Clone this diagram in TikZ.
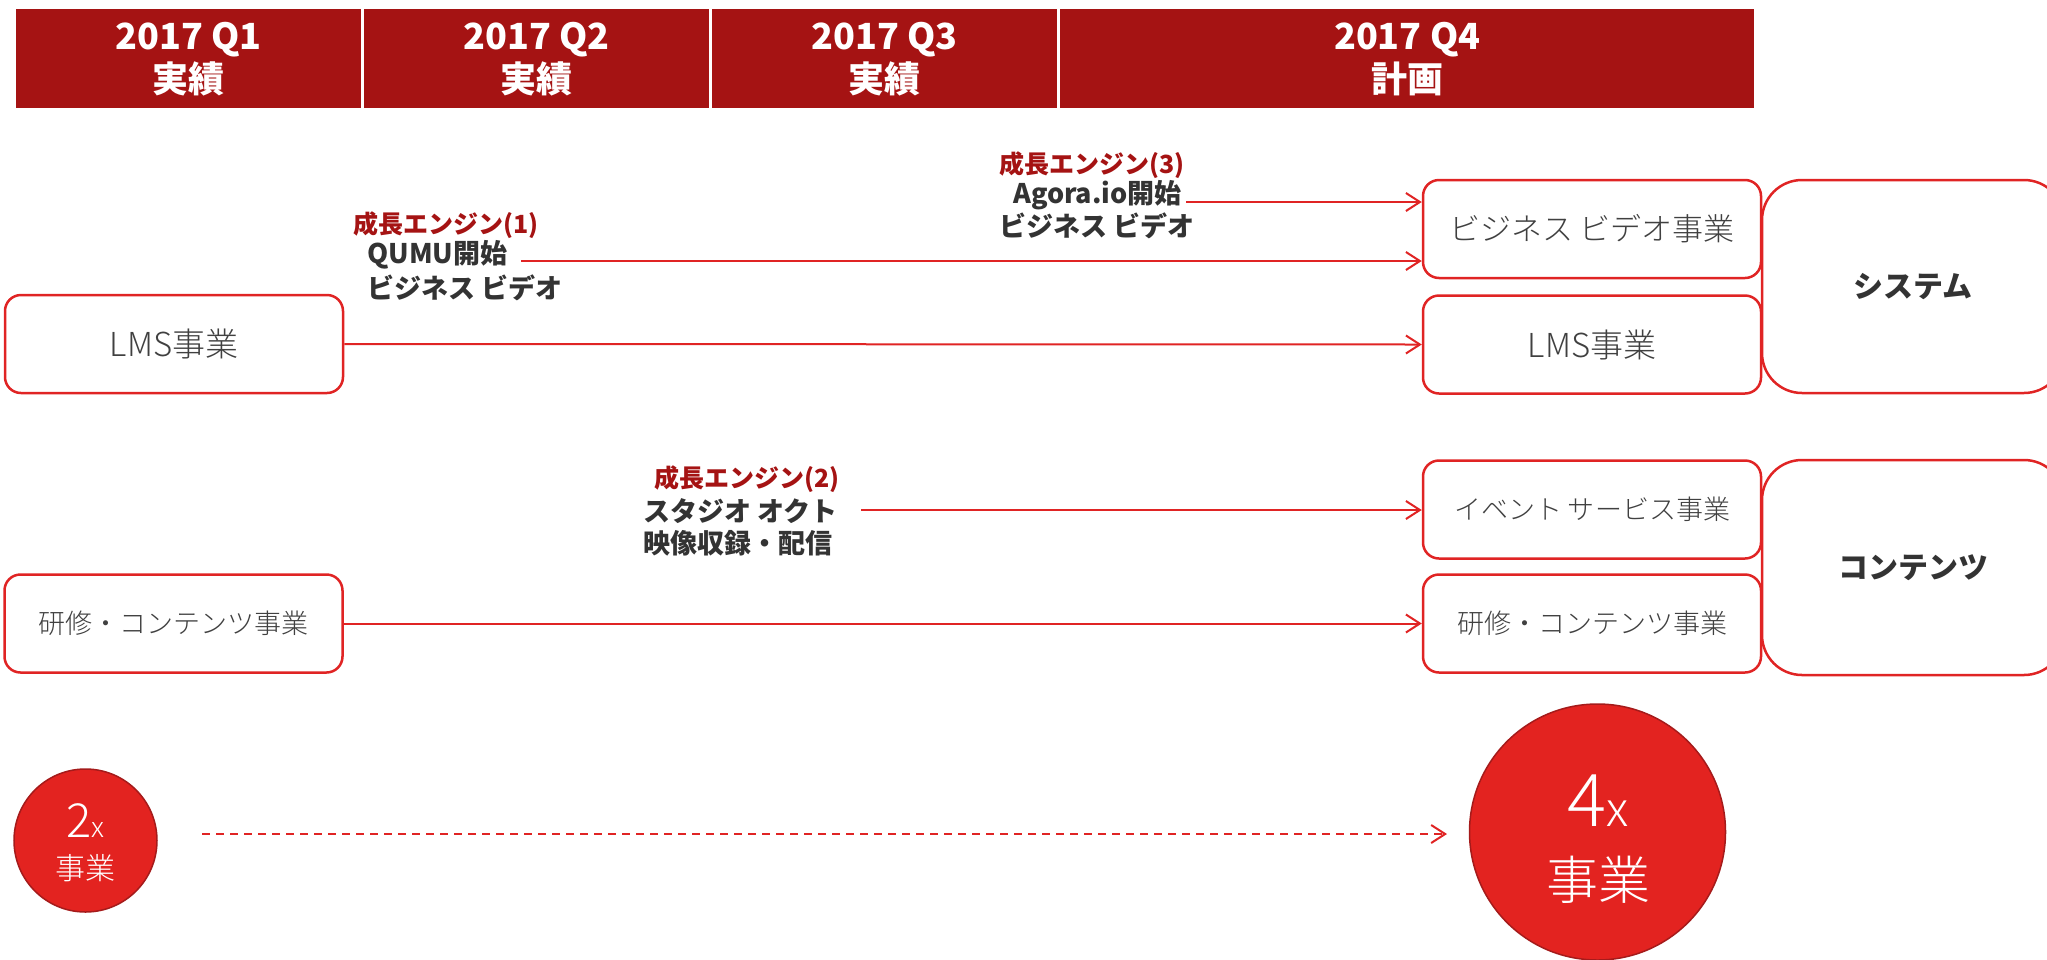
\documentclass[tikz,border=0pt]{standalone}
\usepackage{fontspec}
\setmainfont{Noto Sans CJK JP}
\IfFontExistsTF{Noto Sans CJK JP Light}{\newfontfamily\jplight{Noto Sans CJK JP Light}}{\newfontfamily\jplight{Noto Sans CJK JP}}
\usetikzlibrary{arrows.meta}
\newcommand{\fsz}[1]{\fontsize{#1}{#1}\selectfont}
\definecolor{hdr}{HTML}{A51313}
\definecolor{bred}{HTML}{E02424}
\definecolor{cred}{HTML}{E32320}
\definecolor{cbord}{HTML}{A51B1B}
\definecolor{tgray}{HTML}{404040}
\definecolor{tdark}{HTML}{333333}
\begin{document}
\begin{tikzpicture}[x=1pt,y=-1pt,every node/.style={inner sep=0pt},
  hcell/.style={fill=hdr,draw=none,text=white,font=\fontsize{36}{43}\selectfont\bfseries,align=center,minimum height=99pt,anchor=north west},
  bbox/.style={draw=bred,line width=2.5pt,rounded corners=16pt,fill=white,text=tgray,minimum width=338pt,minimum height=98pt},
  gbox/.style={draw=bred,line width=2.5pt,rounded corners=40pt,fill=white,text=tdark,font=\fsz{30}\bfseries,minimum width=302pt,minimum height=213pt},
  conn/.style={draw=bred,line width=2pt,-{Straight Barb[length=14pt,width=18pt]}},
  lbred/.style={anchor=west,text=hdr,font=\fsz{25}\bfseries},
  lbtxt/.style={anchor=west,text=tdark,font=\fsz{27}\bfseries},
  rcirc/.style={circle,fill=cred,draw=cbord,line width=1.5pt}]
\useasboundingbox (0,0) rectangle (2047,959);
\clip (0,0) rectangle (2047,959);
% header
\node[hcell,minimum width=345.6pt] (q1) at (15.4,9) {2017 Q1\\実績};
\node[hcell,minimum width=345pt] (q2) at (364,9) {2017 Q2\\実績};
\node[hcell,minimum width=345pt] (q3) at (712,9) {2017 Q3\\実績};
\node[hcell,minimum width=694pt] (q4) at (1060,9) {2017 Q4\\計画};
% group boxes
\node[gbox] (sys) at (1913,286.5) {システム};
\node[gbox,minimum height=215pt] (con) at (1913,567.5) {コンテンツ};
% business boxes
\node[bbox,font=\jplight\fsz{33}] (lms1) at (174,344) {LMS事業};
\node[bbox,font=\jplight\fsz{27}] (ken1) at (173.5,623.5) {研修・コンテンツ事業};
\node[bbox,font=\jplight\fsz{31}] (bv) at (1592,229) {ビジネス ビデオ事業};
\node[bbox,font=\jplight\fsz{33}] (lms2) at (1592,344.5) {LMS事業};
\node[bbox,font=\jplight\fsz{27}] (ev) at (1592,509.5) {イベント サービス事業};
\node[bbox,font=\jplight\fsz{27}] (ken2) at (1592,623.5) {研修・コンテンツ事業};
% labels
\node[lbred] (e1) at (353,225) {成長エンジン(1)};
\node[lbtxt] (e1a) at (367,255) {QUMU開始};
\node[lbtxt] (e1b) at (367,288) {ビジネス ビデオ};
\node[lbred] (e3) at (999,165) {成長エンジン(3)};
\node[lbtxt] (e3a) at (1013,195) {Agora.io開始};
\node[lbtxt] (e3b) at (999,226) {ビジネス ビデオ};
\node[lbred] (e2) at (654.5,479) {成長エンジン(2)};
\node[lbtxt] (e2a) at (643,511) {スタジオ オクト};
\node[lbtxt] (e2b) at (643,543) {映像収録・配信};
% connectors
\coordinate (s3) at (1186,202);
\coordinate (s1) at (521,261);
\coordinate (s2) at (861,510);
\draw[conn] (s3) -- (s3 -| bv.west);
\draw[conn] (s1) -- (s1 -| bv.west);
\draw[conn] (lms1.east) -- (lms2.west);
\draw[conn] (s2) -- (s2 -| ev.west);
\draw[conn] (ken1.east) -- (ken2.west);
% circles
\node[rcirc,minimum size=143pt] (c2) at (85.5,840.5) {};
\node[rcirc,minimum size=256pt] (c4) at (1597.5,832) {};
\node[anchor=base,text=white,font=\jplight] (t2a) at (85.5,837) {\fsz{47}2\fsz{28}x};
\node[anchor=base,text=white,font=\jplight\fsz{30}] (t2b) at (85,879) {事業};
\node[anchor=base,text=white,font=\jplight] (t4a) at (1598,826) {\fsz{73}4\fsz{48}x};
\node[anchor=base,text=white,font=\jplight\fsz{52}] (t4b) at (1598,899) {事業};
\coordinate (ds) at (202,834);
\coordinate (de) at (1447,834);
\draw[conn,dash pattern=on 8pt off 6pt] (ds) -- (de);
\end{tikzpicture}
\end{document}
